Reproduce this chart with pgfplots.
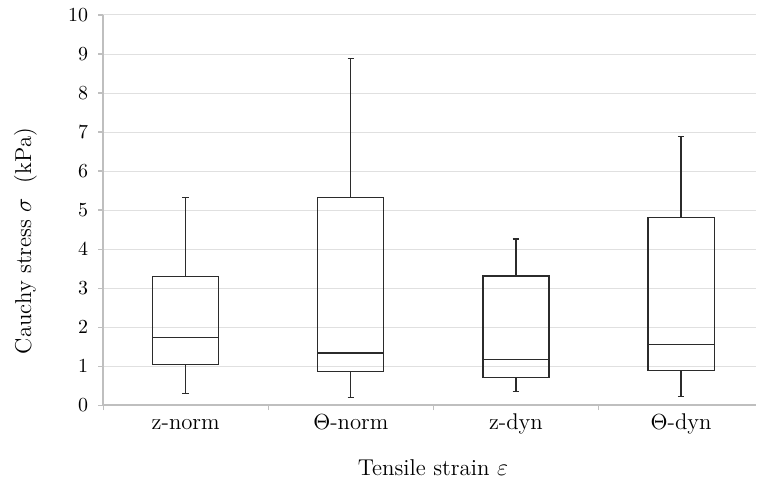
\documentclass[border=0pt]{standalone}
\usepackage{pgfplots}
\pgfplotsset{compat=1.18}
\usepgfplotslibrary{statistics}
\definecolor{axgray}{HTML}{BFBFBF}
\definecolor{gridgray}{HTML}{E0E0E0}
\definecolor{boxc}{HTML}{2B2B2B}
\begin{document}
\begin{tikzpicture}
\begin{axis}[
  scale only axis,
  width=327.7pt, height=195.8pt,
  xmin=0.5, xmax=4.455,
  ymin=0, ymax=10,
  ytick={0,1,...,10},
  xtick={1,2,3,4},
  xticklabels={z-norm,$\Theta$-norm,z-dyn,$\Theta$-dyn},
  minor xtick={0.5,1.5,2.5,3.5,4.5},
  major x tick style={draw=none},
  minor tick length=2.5pt,
  major tick length=2.5pt,
  tick align=outside,
  tick style={axgray, line width=0.6pt},
  axis x line*=bottom,
  axis y line*=left,
  axis line style={axgray, line width=0.8pt},
  ymajorgrids,
  grid style={gridgray, line width=0.5pt},
  yticklabel style={xshift=-1.5pt, inner ysep=4.3pt},
  xticklabel style={font=\fontsize{11.4}{13.7}\selectfont, text height=1.6ex, text depth=0.3ex, yshift=0.5pt},
  ylabel={Cauchy stress $\sigma$~~(kPa)},
  xlabel={Tensile strain $\varepsilon$},
  label style={font=\fontsize{11.5}{13.8}\selectfont},
  ylabel style={at={(axis description cs:-0.119,0.421)}, anchor=center, rotate=0, inner ysep=7pt},
  xlabel style={at={(axis description cs:0.505,-0.159)}, anchor=center},
  boxplot/draw direction=y,
  boxplot/box extend=0.4,
  boxplot/whisker extend=0.04,
  clip=false,
]
\addplot[boxc, line width=0.6pt, boxplot prepared={draw position=1,
  lower whisker=0.31, lower quartile=1.05, median=1.74, upper quartile=3.29, upper whisker=5.32}]
  coordinates {};
\addplot[boxc, line width=0.6pt, boxplot prepared={draw position=2,
  lower whisker=0.20, lower quartile=0.87, median=1.34, upper quartile=5.32, upper whisker=8.88}]
  coordinates {};
\addplot[boxc, line width=0.6pt, boxplot prepared={draw position=3,
  lower whisker=0.35, lower quartile=0.70, median=1.17, upper quartile=3.31, upper whisker=4.26}]
  coordinates {};
\addplot[boxc, line width=0.6pt, boxplot prepared={draw position=4,
  lower whisker=0.23, lower quartile=0.88, median=1.55, upper quartile=4.80, upper whisker=6.89}]
  coordinates {};
\end{axis}
\end{tikzpicture}
\end{document}
